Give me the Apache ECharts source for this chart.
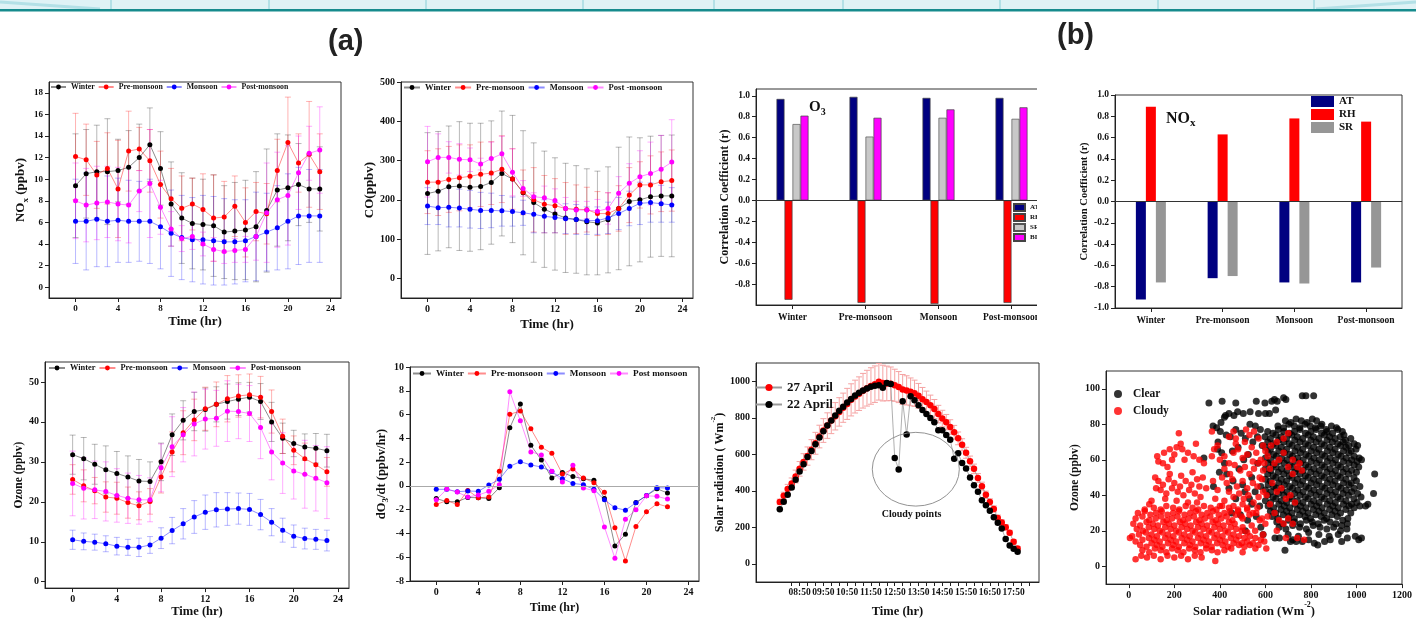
<!DOCTYPE html>
<html>
<head>
<meta charset="utf-8">
<title>Diurnal variation and correlation panels</title>
<script src="https://cdn.jsdelivr.net/npm/echarts@6/dist/echarts.min.js"></script>
<style>
html, body { margin: 0; padding: 0; background: #fff; }
#main { width: 1416px; height: 619px; }
</style>
</head>
<body>
<div id="main"></div>
<script>
// ---------- data ----------
const hours = [0, 1, 2, 3, 4, 5, 6, 7, 8, 9, 10, 11, 12, 13, 14, 15, 16, 17, 18, 19, 20, 21, 22, 23]
const hourTicks = [0, 4, 8, 12, 16, 20, 24]

// NOx (ppbv)
const noxWinter = [9.4, 10.5, 10.7, 10.7, 10.8, 11.1, 12.0, 13.2, 11.0, 7.7, 6.4, 5.9, 5.8, 5.7, 5.1, 5.2, 5.3, 5.6, 7.1, 9.0, 9.2, 9.5, 9.1, 9.1]
const noxWinterSd = [4.8, 4.1, 4.3, 4.9, 2.9, 3.4, 3.1, 3.4, 3.4, 3.9, 4.2, 4.2, 4.2, 4.7, 4.3, 4.5, 4.6, 5.1, 5.7, 5.2, 4.9, 3.8, 3.1, 3.9]
const noxPre = [12.1, 11.8, 10.4, 11.0, 9.1, 12.6, 12.8, 11.7, 9.5, 8.2, 7.3, 7.7, 7.2, 6.4, 6.5, 7.5, 6.0, 7.0, 6.8, 10.8, 13.4, 11.5, 12.3, 10.7]
const noxPreSd = [4.0, 3.3, 3.1, 3.3, 4.5, 3.7, 2.0, 2.9, 3.1, 2.8, 3.0, 2.4, 3.3, 4.0, 3.3, 2.8, 3.2, 2.7, 2.8, 2.9, 4.2, 2.7, 4.9, 3.5]
const noxMon = [6.1, 6.1, 6.3, 6.1, 6.2, 6.1, 6.1, 6.1, 5.6, 5.0, 4.6, 4.4, 4.4, 4.3, 4.2, 4.2, 4.3, 4.7, 5.1, 5.5, 6.1, 6.6, 6.6, 6.6]
const noxMonSd = [3.9, 4.5, 4.4, 4.2, 3.9, 3.8, 3.7, 3.9, 3.9, 4.0, 3.9, 3.9, 4.1, 4.1, 4.0, 3.9, 3.8, 4.1, 3.6, 3.9, 4.4, 4.5, 4.3, 4.3]
const noxPost = [8.0, 7.6, 7.8, 7.9, 7.7, 7.6, 8.9, 9.6, 7.4, 5.4, 4.5, 4.7, 4.0, 3.5, 3.3, 3.4, 3.5, 4.7, 6.9, 8.1, 8.5, 10.6, 12.4, 12.7]
const noxPostSd = [3.5, 3.4, 3.4, 3.3, 3.4, 3.5, 1.9, 5.0, 2.5, 1.6, 1.2, 1.2, 1.1, 1.1, 1.1, 1.1, 1.2, 2.2, 4.6, 4.4, 4.6, 3.4, 2.5, 4.0]
const noxTicks = [0, 2, 4, 6, 8, 10, 12, 14, 16, 18]

// CO (ppbv)
const coWinter = [216, 222, 233, 235, 232, 234, 244, 267, 253, 218, 193, 176, 164, 154, 150, 144, 141, 149, 178, 196, 200, 208, 210, 210]
const coWinterSd = [155, 152, 155, 164, 163, 161, 157, 159, 162, 158, 152, 148, 143, 139, 137, 135, 132, 135, 156, 164, 158, 154, 154, 155]
const coPre = [245, 245, 252, 256, 260, 265, 268, 278, 253, 219, 200, 189, 185, 178, 176, 175, 165, 165, 178, 212, 238, 238, 246, 249]
const coPreSd = [80, 85, 84, 84, 80, 82, 80, 85, 77, 57, 82, 73, 69, 66, 62, 57, 56, 53, 58, 70, 59, 74, 76, 78]
const coMon = [184, 180, 181, 179, 176, 173, 173, 172, 170, 167, 163, 158, 155, 152, 150, 147, 147, 154, 165, 178, 191, 193, 190, 187]
const coMonSd = [47, 43, 50, 48, 48, 46, 44, 39, 37, 32, 47, 42, 39, 38, 38, 35, 35, 40, 41, 44, 54, 50, 47, 44]
const coPost = [297, 308, 308, 303, 302, 291, 305, 317, 270, 229, 208, 205, 198, 178, 174, 174, 171, 178, 217, 242, 259, 267, 278, 296]
const coPostSd = [90, 60, 40, 40, 30, 15, 42, 45, 60, 20, 10, 30, 30, 28, 22, 22, 30, 40, 42, 50, 66, 80, 86, 108]
const coTicks = [0, 100, 200, 300, 400, 500]

// Ozone (ppbv)
const o3Winter = [31.8, 30.8, 29.4, 28.0, 27.1, 26.2, 25.2, 25.1, 30.0, 36.8, 40.4, 42.6, 43.1, 44.4, 45.1, 45.7, 46.2, 45.1, 40.0, 35.9, 34.6, 33.7, 33.4, 32.8]
const o3WinterSd = [4.9, 5.3, 5.0, 6.0, 5.5, 5.3, 5.4, 4.9, 4.7, 5.2, 4.9, 4.8, 5.4, 4.4, 4.4, 4.1, 3.7, 4.5, 4.9, 3.8, 3.3, 3.3, 3.7, 4.1]
const o3Pre = [25.6, 24.0, 22.8, 21.2, 20.9, 19.8, 19.0, 20.1, 26.2, 32.5, 37.3, 40.5, 43.3, 44.4, 45.8, 46.5, 46.8, 46.2, 42.6, 36.4, 32.9, 30.8, 29.3, 27.5]
const o3PreSd = [3.7, 4.0, 3.3, 3.8, 4.0, 3.9, 3.5, 3.2, 4.0, 5.0, 5.5, 5.2, 5.4, 5.6, 5.8, 5.3, 5.2, 5.2, 5.4, 4.3, 3.6, 3.9, 3.8, 3.6]
const o3Mon = [10.5, 10.1, 9.9, 9.5, 8.9, 8.6, 8.6, 9.2, 10.9, 12.8, 14.5, 16.2, 17.4, 18.0, 18.2, 18.3, 18.1, 16.8, 14.9, 12.9, 11.4, 10.8, 10.6, 10.3]
const o3MonSd = [2.4, 2.1, 2.0, 2.0, 2.2, 2.0, 2.3, 2.1, 2.6, 3.3, 3.8, 4.1, 4.3, 4.3, 4.1, 3.9, 4.0, 3.8, 3.4, 3.0, 2.8, 2.6, 2.5, 2.6]
const o3Post = [24.6, 23.4, 23.0, 22.6, 21.6, 20.9, 20.5, 20.5, 28.5, 33.8, 36.8, 39.5, 40.7, 40.9, 42.7, 42.6, 42.1, 38.6, 32.5, 29.7, 27.7, 26.9, 25.9, 24.8]
const o3PostSd = [8.1, 7.7, 7.2, 7.4, 6.7, 6.3, 6.1, 5.5, 6.0, 7.5, 6.8, 8.0, 7.5, 7.0, 7.6, 6.8, 7.0, 7.8, 7.0, 7.6, 7.0, 8.5, 8.2, 9.0]
const o3Ticks = [0, 10, 20, 30, 40, 50]

// dO3/dt (ppbv/hr), hours 0-22
const dWinter = [-1.06, -1.33, -1.33, -0.97, -1.0, -1.06, -0.15, 4.88, 6.88, 3.42, 2.18, 0.66, 1.12, 0.78, 0.61, 0.47, -1.06, -5.05, -4.07, -1.4, -0.83, -0.24, -0.6]
const dPre = [-1.57, -1.23, -1.57, -0.38, -1.0, -0.94, 1.23, 6.03, 6.29, 4.8, 3.25, 2.74, 1.0, 1.42, 0.66, 0.27, -0.54, -3.53, -6.31, -3.42, -2.18, -1.5, -1.76]
const dMon = [-0.29, -0.29, -0.49, -0.43, -0.46, 0.07, 0.55, 1.65, 2.04, 1.76, 1.59, 1.2, 0.61, 0.21, 0.1, -0.29, -1.17, -1.84, -2.04, -1.42, -0.8, -0.15, -0.18]
const dPost = [-1.17, -0.27, -0.52, -0.94, -0.77, -0.46, 0.1, 7.92, 5.47, 2.86, 2.6, 1.23, 0.33, 1.74, -0.18, -0.4, -3.45, -6.09, -2.8, -2.01, -0.83, -0.88, -1.11]
const dTicks = [-8, -6, -4, -2, 0, 2, 4, 6, 8, 10]

// correlation coefficients
const seasons = ['Winter', 'Pre-monsoon', 'Monsoon', 'Post-monsoon']
const o3AT = [0.97, 0.99, 0.98, 0.98]
const o3RH = [-0.95, -0.98, -0.99, -0.98]
const o3SR = [0.73, 0.61, 0.79, 0.78]
const o3BLH = [0.81, 0.79, 0.87, 0.89]
const noxAT = [-0.92, -0.72, -0.76, -0.76]
const noxRH = [0.89, 0.63, 0.78, 0.75]
const noxSR = [-0.76, -0.70, -0.77, -0.62]
const corrO3Ticks = [-0.8, -0.6, -0.4, -0.2, 0.0, 0.2, 0.4, 0.6, 0.8, 1.0]
const corrNoxTicks = [-1.0, -0.8, -0.6, -0.4, -0.2, 0.0, 0.2, 0.4, 0.6, 0.8, 1.0]

// solar radiation (W m-2), 10-minute readings
const solarTimes = ['08:00', '08:10', '08:20', '08:30', '08:40', '08:50', '09:00', '09:10', '09:20', '09:30',
  '09:40', '09:50', '10:00', '10:10', '10:20', '10:30', '10:40', '10:50', '11:00', '11:10',
  '11:20', '11:30', '11:40', '11:50', '12:00', '12:10', '12:20', '12:30', '12:40', '12:50',
  '13:00', '13:10', '13:20', '13:30', '13:40', '13:50', '14:00', '14:10', '14:20', '14:30',
  '14:40', '14:50', '15:00', '15:10', '15:20', '15:30', '15:40', '15:50', '16:00', '16:10',
  '16:20', '16:30', '16:40', '16:50', '17:00', '17:10', '17:20', '17:30', '17:40', '17:50', '18:00']
const april27 = [339, 372, 410, 440, 478, 520, 558, 590, 625, 660,
  697, 730, 757, 785, 808, 832, 855, 876, 898, 916,
  932, 948, 962, 974, 984, 997, 990, 988, 986, 978,
  968, 955, 950, 942, 934, 920, 902, 886, 868, 848,
  820, 796, 776, 749, 720, 687, 652, 608, 562, 520,
  470, 425, 378, 338, 300, 251, 226, 200, 170, 120, 84]
const april27Err = [15, 20, 25, 30, 35, 40, 45, 50, 55, 60,
  62, 65, 70, 72, 75, 78, 80, 85, 88, 90,
  92, 95, 98, 100, 100, 100, 98, 95, 92, 88,
  85, 82, 80, 76, 72, 68, 64, 60, 56, 52,
  48, 45, 42, 40, 38, 35, 33, 30, 28, 26,
  24, 22, 20, 18, 17, 16, 15, 14, 13, 12, 10]
const april22 = [299, 340, 378, 418, 460, 505, 545, 585, 618, 655,
  692, 726, 758, 785, 812, 838, 860, 884, 903, 922,
  937, 950, 960, 970, 975, 978, 965, 990, 985, 579,
  517, 891, 708, 918, 896, 868, 843, 820, 798, 775,
  732, 732, 706, 680, 576, 605, 552, 522, 472, 430,
  395, 348, 320, 290, 255, 225, 193, 135, 100, 82, 66]
const solarTimeLabels = ['08:50', '09:50', '10:50', '11:50', '12:50', '13:50', '14:50', '15:50', '16:50', '17:50']
const solarTicks = [0, 200, 400, 600, 800, 1000]

// ozone vs solar radiation scatter, flat [sr, o3, sr, o3, ...]
const clearPts = [
  352, 92, 410, 93, 470, 92, 560, 93, 598, 92, 628, 93, 640, 94, 652, 93, 680, 95, 690, 94, 762, 96, 778, 96, 812, 96,
  420, 84, 440, 86, 462, 85, 478, 87, 503, 86, 533, 87, 570, 86, 600, 86, 618, 86, 645, 88, 405, 81, 425, 85,
  370, 79, 386, 78, 402, 76, 428, 74, 392, 70, 446, 73, 470, 77, 494, 75, 512, 72, 532, 80, 556, 79, 578, 77,
  390, 66, 408, 64, 330, 61, 455, 65, 480, 67, 505, 60, 525, 63, 545, 70, 565, 73, 586, 68, 372, 45, 398, 53,
  430, 52, 458, 48, 484, 55, 510, 42, 540, 50, 566, 58, 580, 45, 470, 38, 452, 30, 490, 29, 522, 26, 512, 20,
  540, 35, 560, 28, 580, 22, 590, 18, 420, 58, 440, 44, 500, 46, 530, 38, 555, 42, 575, 34,
  688, 82, 712, 81, 735, 83, 758, 82, 783, 81, 806, 83, 825, 82, 848, 80,
  655, 79, 680, 78, 703, 80, 727, 79, 751, 78, 774, 80, 797, 79, 820, 78, 843, 79, 867, 77, 890, 79, 912, 78,
  610, 76, 633, 75, 657, 77, 681, 76, 705, 75, 728, 76, 752, 77, 776, 75, 800, 76, 823, 77, 847, 75, 871, 76, 895, 75, 918, 77, 938, 76, 945, 74,
  598, 73, 622, 72, 646, 74, 669, 73, 693, 72, 716, 74, 740, 73, 764, 72, 788, 74, 811, 73, 835, 72, 859, 74, 882, 73, 906, 72, 929, 73, 952, 71, 975, 72,
  610, 70, 634, 69, 658, 71, 681, 70, 705, 69, 729, 71, 752, 70, 776, 69, 800, 71, 823, 70, 847, 69, 871, 71, 894, 70, 918, 69, 942, 70, 966, 68, 990, 69, 1005, 68,
  600, 67, 622, 66, 646, 68, 670, 67, 693, 66, 717, 68, 741, 67, 764, 66, 788, 68, 812, 67, 835, 66, 859, 68, 883, 67, 906, 66, 930, 68, 954, 67, 977, 65, 998, 66,
  612, 64, 636, 63, 659, 65, 683, 64, 707, 63, 730, 65, 754, 64, 778, 63, 801, 65, 825, 64, 849, 63, 872, 65, 896, 64, 920, 63, 943, 65, 967, 64, 990, 62, 1012, 61,
  600, 61, 624, 60, 648, 62, 671, 61, 695, 60, 719, 62, 742, 61, 766, 60, 790, 62, 813, 61, 837, 60, 861, 62, 884, 61, 908, 60, 932, 62, 955, 61, 979, 60, 1003, 59, 1022, 60,
  612, 58, 635, 57, 659, 59, 683, 58, 706, 57, 730, 59, 754, 58, 777, 57, 801, 59, 825, 58, 848, 57, 872, 59, 896, 58, 919, 57, 943, 59, 967, 58, 990, 57, 1010, 56,
  600, 55, 624, 54, 647, 56, 671, 55, 695, 54, 718, 56, 742, 55, 766, 54, 789, 56, 813, 55, 837, 54, 860, 56, 884, 55, 908, 54, 931, 56, 955, 55, 979, 54, 1000, 53,
  610, 52, 634, 51, 657, 53, 681, 52, 705, 51, 728, 53, 752, 52, 776, 51, 799, 53, 823, 52, 847, 51, 870, 53, 894, 52, 918, 51, 941, 53, 965, 52, 989, 50, 1080, 52,
  600, 49, 622, 48, 646, 50, 670, 49, 693, 48, 717, 50, 741, 49, 764, 48, 788, 50, 812, 49, 835, 48, 859, 50, 883, 49, 906, 48, 930, 50, 954, 49, 977, 47, 1000, 48,
  612, 46, 636, 45, 659, 47, 683, 46, 707, 45, 730, 47, 754, 46, 778, 45, 801, 47, 825, 46, 849, 45, 872, 47, 896, 46, 920, 45, 943, 47, 967, 46, 990, 44, 1015, 45,
  600, 43, 624, 42, 648, 44, 671, 43, 695, 42, 719, 44, 742, 43, 766, 42, 790, 44, 813, 43, 837, 42, 861, 44, 884, 43, 908, 42, 932, 44, 955, 43, 979, 42, 1005, 41,
  610, 40, 634, 39, 657, 41, 681, 40, 705, 39, 728, 41, 752, 40, 776, 39, 799, 41, 823, 40, 847, 39, 870, 41, 894, 40, 918, 39, 941, 41, 965, 40, 989, 38, 1075, 41, 1020, 39,
  600, 37, 623, 36, 646, 38, 670, 37, 694, 36, 717, 38, 741, 37, 765, 36, 788, 38, 812, 37, 836, 36, 859, 38, 883, 37, 907, 36, 930, 38, 954, 37, 978, 35, 1002, 36, 1050, 35,
  612, 34, 636, 33, 659, 35, 683, 34, 707, 33, 730, 35, 754, 34, 778, 33, 801, 35, 825, 34, 849, 33, 872, 35, 896, 34, 920, 33, 943, 35, 967, 34, 990, 33, 1040, 34, 1015, 34,
  622, 31, 646, 30, 669, 32, 693, 31, 717, 30, 740, 32, 764, 31, 788, 30, 811, 32, 835, 31, 859, 30, 882, 32, 906, 31, 930, 30, 953, 32, 975, 30,
  630, 28, 655, 27, 679, 29, 703, 28, 727, 27, 750, 29, 774, 28, 798, 27, 821, 29, 845, 28, 869, 27, 892, 29, 916, 28, 940, 26, 962, 27,
  650, 25, 676, 24, 702, 26, 728, 25, 754, 24, 780, 26, 806, 25, 832, 24, 858, 26, 884, 25, 910, 24, 935, 23, 960, 24,
  660, 22, 690, 21, 720, 23, 750, 22, 780, 21, 810, 23, 840, 22, 870, 21, 900, 22, 930, 20, 958, 21,
  700, 18, 745, 17, 790, 19, 835, 18, 880, 17, 920, 18, 960, 16, 995, 17, 1022, 16,
  642, 16, 662, 16, 720, 15, 735, 14, 762, 14, 790, 15, 815, 13, 830, 12, 860, 14, 885, 15, 935, 14, 1010, 15,
  686, 9, 710, 14
]
const cloudyPts = [
  110, 33, 140, 32, 165, 34, 195, 33, 222, 32, 250, 34, 280, 33, 305, 32, 330, 34, 360, 33, 385, 32, 410, 34, 440, 33, 480, 31, 520, 32, 560, 30,
  40, 30, 70, 31, 95, 29, 120, 30, 145, 31, 170, 29, 195, 30, 220, 31, 245, 29, 270, 30, 295, 31, 320, 29, 345, 30, 370, 31, 395, 29, 420, 30, 445, 31, 470, 29, 495, 28, 530, 29,
  30, 27, 60, 28, 90, 26, 118, 27, 142, 28, 166, 26, 190, 27, 214, 28, 238, 26, 262, 27, 286, 28, 310, 26, 334, 27, 358, 28, 382, 26, 406, 27, 430, 28, 455, 26, 500, 27, 575, 26,
  20, 24, 50, 23, 78, 25, 105, 24, 128, 23, 152, 25, 176, 24, 200, 23, 224, 25, 248, 24, 272, 23, 296, 25, 320, 24, 344, 23, 368, 25, 392, 24, 416, 23, 440, 25, 465, 24, 500, 22, 540, 23, 600, 24,
  35, 21, 62, 20, 88, 22, 112, 21, 136, 20, 160, 22, 184, 21, 208, 20, 232, 22, 256, 21, 280, 20, 304, 22, 328, 21, 352, 20, 376, 22, 400, 21, 424, 20, 448, 22, 472, 21, 496, 20, 520, 19, 555, 20, 590, 18,
  15, 17, 45, 18, 75, 19, 100, 18, 124, 17, 148, 19, 172, 18, 196, 17, 220, 19, 244, 18, 268, 17, 292, 19, 316, 18, 340, 17, 364, 19, 388, 18, 412, 17, 436, 19, 460, 18, 484, 17, 508, 16, 532, 17, 556, 16, 580, 15,
  5, 16, 30, 14, 60, 15, 88, 16, 112, 15, 136, 14, 160, 16, 184, 15, 208, 14, 232, 16, 256, 15, 280, 14, 304, 16, 328, 15, 352, 14, 376, 16, 400, 15, 424, 14, 448, 16, 472, 15, 496, 13, 520, 14, 545, 13, 570, 12, 595, 14,
  50, 12, 78, 11, 100, 13, 124, 12, 148, 11, 172, 13, 196, 12, 220, 11, 244, 13, 268, 12, 292, 11, 316, 13, 340, 12, 364, 11, 388, 13, 412, 12, 436, 11, 460, 13, 484, 12, 508, 11, 532, 12, 556, 10, 604, 10,
  60, 9, 90, 8, 115, 10, 140, 9, 165, 8, 190, 10, 215, 9, 240, 8, 265, 10, 290, 9, 315, 8, 340, 10, 365, 9, 390, 8, 420, 9, 450, 10, 500, 8,
  30, 4, 55, 6, 80, 5, 110, 6, 140, 4, 170, 6, 200, 5, 230, 6, 260, 4, 290, 6, 320, 5, 380, 3,
  116, 50, 130, 48, 150, 46, 175, 49, 200, 47, 225, 45, 250, 48, 275, 46, 300, 49, 325, 50, 120, 44, 140, 43, 165, 41, 190, 44, 215, 42,
  240, 40, 265, 43, 290, 41, 315, 39, 340, 44, 180, 52, 230, 51, 280, 53, 310, 45, 160, 38, 210, 37, 260, 36, 300, 36, 100, 37, 90, 35, 70, 32,
  125, 62, 130, 59, 155, 64, 180, 66, 200, 63, 210, 67, 228, 69, 235, 66, 260, 64, 285, 62, 295, 69, 245, 60, 190, 60, 150, 58, 170, 56,
  220, 75, 310, 60, 330, 58, 365, 62, 365, 76, 375, 66, 390, 68,
  400, 60, 420, 62, 440, 58, 460, 64, 480, 66, 500, 61, 520, 63, 540, 67, 560, 64, 580, 60, 595, 58, 420, 55, 445, 52, 465, 57, 490, 54,
  510, 56, 530, 52, 550, 55, 570, 58, 590, 54, 410, 50, 430, 47, 455, 49, 475, 45, 500, 48, 520, 44, 545, 47, 565, 45, 585, 49, 440, 42,
  460, 39, 485, 41, 505, 38, 525, 40, 548, 36, 570, 39, 590, 42, 460, 34, 480, 32, 500, 35, 520, 33, 545, 30, 565, 33, 585, 27, 370, 48,
  390, 43, 380, 38, 400, 34, 420, 37, 440, 73, 470, 72, 510, 70, 530, 74, 550, 76, 570, 72, 590, 68, 600, 65, 610, 62, 460, 76, 470, 69,
  515, 77, 545, 59, 575, 50,
  620, 55, 640, 58, 660, 60, 680, 64, 700, 56, 720, 52, 740, 56, 750, 58, 630, 47, 650, 42, 670, 44, 690, 38, 710, 40, 730, 36, 620, 35,
  640, 30, 660, 26, 680, 24, 700, 27, 720, 24, 740, 16, 770, 15, 690, 16, 650, 20, 610, 28, 625, 68, 650, 70, 680, 72, 700, 75, 720, 60,
  760, 54, 605, 40
]
const srTicks = [0, 200, 400, 600, 800, 1000, 1200]
const ozTicks = [0, 20, 40, 60, 80, 100]

// cloudy-points ring and its label, in data units of the solar panel
const cloudRing = { t: 13.72, v: 518, rt: 1.83, rv: 202 }
const cloudLabel = { t: 13.54, v: 269 }

// ---------- helpers ----------
const FONT = "'Liberation Serif', 'Times New Roman', serif"

function toHours (s) {
  const p = s.split(':')
  return Number(p[0]) + Number(p[1]) / 60
}
function hhmm (v) {
  let h = Math.floor(v + 1e-6)
  let m = Math.round((v - h) * 60)
  if (m === 60) { h++; m = 0 }
  return (h < 10 ? '0' : '') + h + ':' + (m < 10 ? '0' : '') + m
}
function pairs (a) {
  const out = []
  for (let i = 0; i < a.length; i += 2) out.push([a[i], a[i + 1]])
  return out
}
const plain = v => String(Math.round(v * 1000) / 1000)

function richName (size) {
  const base = { fontFamily: FONT, fontWeight: 'bold', fontSize: size, color: '#111', verticalAlign: 'top' }
  return {
    fontFamily: FONT, fontWeight: 'bold', fontSize: size, color: '#111',
    rich: {
      b: Object.assign({}, base),
      s: Object.assign({}, base, { fontSize: Math.round(size * 0.68), padding: [Math.round(size * 0.5), 0, 0, 0] }),
      p: Object.assign({}, base, { padding: [4, 0, 0, 0] }),
      u: Object.assign({}, base, { fontSize: Math.round(size * 0.62) })
    }
  }
}

function valueAxis (gi, min, max, ticks, fontSize, name, nameGap, nameSize, fmt) {
  return {
    type: 'value', gridIndex: gi, min: min, max: max,
    axisLine: { show: true, onZero: false, lineStyle: { color: '#222' } },
    axisTick: { show: true, length: 4, customValues: ticks, lineStyle: { color: '#222' } },
    axisLabel: { customValues: ticks, fontFamily: FONT, fontWeight: 'bold', fontSize: fontSize, color: '#111', margin: 6, formatter: fmt || plain },
    splitLine: { show: false },
    name: name, nameLocation: 'middle', nameGap: nameGap, nameTextStyle: richName(nameSize)
  }
}

function catAxis (gi, fontSize) {
  return {
    type: 'category', gridIndex: gi, data: seasons,
    axisLine: { show: true, onZero: false, lineStyle: { color: '#222' } },
    axisTick: { show: true, alignWithLabel: true, interval: 0, length: 4, lineStyle: { color: '#222' } },
    axisLabel: { interval: 0, fontFamily: FONT, fontWeight: 'bold', fontSize: fontSize, color: '#111', margin: 8 },
    splitLine: { show: false }
  }
}

function renderErr (params, api) {
  const top = api.coord([api.value(0), api.value(2)])
  const bot = api.coord([api.value(0), api.value(1)])
  const w = 3
  const style = { stroke: api.visual('color'), lineWidth: 1 }
  return {
    type: 'group',
    children: [
      { type: 'line', shape: { x1: top[0], y1: top[1], x2: bot[0], y2: bot[1] }, style: style },
      { type: 'line', shape: { x1: top[0] - w, y1: top[1], x2: top[0] + w, y2: top[1] }, style: style },
      { type: 'line', shape: { x1: bot[0] - w, y1: bot[1], x2: bot[0] + w, y2: bot[1] }, style: style }
    ]
  }
}

function errSeries (gi, xs, ys, sd, color) {
  return {
    type: 'custom', name: 'sd', xAxisIndex: gi, yAxisIndex: gi, silent: true, z: 1,
    renderItem: renderErr, itemStyle: { color: color },
    data: xs.map((x, i) => [x, ys[i] - sd[i], ys[i] + sd[i]])
  }
}

function lineSeries (gi, name, xs, ys, color, size) {
  return {
    type: 'line', name: name, xAxisIndex: gi, yAxisIndex: gi, z: 3,
    data: xs.map((x, i) => [x, ys[i]]),
    symbol: 'circle', symbolSize: size || 5,
    itemStyle: { color: color, borderWidth: 0 },
    lineStyle: { color: color, width: 1, opacity: 0.45 }
  }
}

function barSeries (gi, name, vals, color, width, border) {
  return {
    type: 'bar', name: name, xAxisIndex: gi, yAxisIndex: gi, data: vals,
    barWidth: width, barGap: '0%',
    itemStyle: { color: color, borderColor: border || color, borderWidth: border ? 0.7 : 0 }
  }
}

const zeroLine = {
  silent: true, symbol: 'none', label: { show: false },
  lineStyle: { color: '#333', width: 1, type: 'solid' }, data: [{ yAxis: 0 }]
}

function lineLegend (left, top, names, size, w) {
  return {
    left: left, top: top, padding: 0, itemGap: 3, itemWidth: w || 16, itemHeight: 6,
    data: names, textStyle: { fontFamily: FONT, fontWeight: 'bold', fontSize: size, color: '#111' }
  }
}

const ERR = {
  black: 'rgba(0,0,0,0.28)', red: 'rgba(255,0,0,0.3)', blue: 'rgba(0,0,255,0.28)', pink: 'rgba(255,0,255,0.32)'
}
const seasonNames = ['Winter', 'Pre-monsoon', 'Monsoon', 'Post-monsoon']
const hoursD = hours.slice(0, dWinter.length)
const solarHours = solarTimes.map(toHours)
const solarLabelHours = solarTimeLabels.map(toHours)
const solarTickHours = []
solarLabelHours.forEach(h => { solarTickHours.push(h - 1 / 3, h, h + 1 / 3) })
solarTickHours.push(solarLabelHours[solarLabelHours.length - 1] + 2 / 3)

const fmt1 = v => v.toFixed(1)

// ---------- chart ----------
const chart = echarts.init(document.getElementById('main'), null, { renderer: 'canvas' })

const grids = [
  { left: 49, top: 82, width: 292, height: 216 },
  { left: 401, top: 82, width: 292, height: 216 },
  { left: 756, top: 89, width: 292, height: 216 },
  { left: 1115, top: 95, width: 287, height: 213 },
  { left: 45, top: 362, width: 304, height: 231 },
  { left: 410, top: 367, width: 289, height: 214 },
  { left: 756, top: 363, width: 283, height: 220 },
  { left: 1106, top: 371, width: 296, height: 216 }
].map(g => Object.assign(g, { show: true, borderColor: '#333', borderWidth: 1, backgroundColor: 'transparent' }))

const xAxes = [
  valueAxis(0, -2.5, 25, hourTicks, 9, 'Time (hr)', 17, 13),
  valueAxis(1, -2.5, 25, hourTicks, 10, 'Time (hr)', 20, 13),
  catAxis(2, 9.5),
  catAxis(3, 9.5),
  valueAxis(4, -2.5, 25, hourTicks, 10, 'Time (hr)', 15, 12.5),
  valueAxis(5, -2.5, 25, hourTicks, 10, 'Time (hr)', 21, 12),
  valueAxis(6, 7.0, 18.9, solarLabelHours, 9.5, 'Time (hr)', 23, 12.5, hhmm),
  valueAxis(7, -100, 1200, srTicks, 10, '{p|Solar radiation (Wm}{u|-2}{p|)}', 15, 12.5)
]
xAxes[6].axisTick.customValues = solarTickHours

const yAxes = [
  valueAxis(0, -1, 19, noxTicks, 9, '{b|NO}{s|x}{b| (ppbv)}', 17, 13),
  valueAxis(1, -50, 500, coTicks, 10, 'CO(ppbv)', 22, 13),
  valueAxis(2, -1.0, 1.065, corrO3Ticks, 9.5, 'Correlation Coefficient (r)', 22, 12, fmt1),
  valueAxis(3, -1, 1, corrNoxTicks, 9.5, 'Correlation Coefficient (r)', 25, 10.5, fmt1),
  valueAxis(4, -1.6, 55, o3Ticks, 10, 'Ozone (ppbv)', 20, 11.5),
  valueAxis(5, -8, 10, dTicks, 10, '{b|dO}{s|3}{b|/dt (ppbv/hr)}', 20, 12.5),
  valueAxis(6, -100, 1100, solarTicks, 10, '{p|Solar radiation ( Wm}{u|-2}{p|)}', 22, 12),
  valueAxis(7, -10, 110, ozTicks, 10, 'Ozone (ppbv)', 14, 11.5)
]

const series = []
// panel: NOx diurnal
series.push(
  errSeries(0, hours, noxWinter, noxWinterSd, ERR.black),
  errSeries(0, hours, noxPre, noxPreSd, ERR.red),
  errSeries(0, hours, noxMon, noxMonSd, ERR.blue),
  errSeries(0, hours, noxPost, noxPostSd, ERR.pink),
  lineSeries(0, 'Winter', hours, noxWinter, '#000'),
  lineSeries(0, 'Pre-monsoon', hours, noxPre, '#ff0000'),
  lineSeries(0, 'Monsoon', hours, noxMon, '#0000ff'),
  lineSeries(0, 'Post-monsoon', hours, noxPost, '#ff00ff')
)
// panel: CO diurnal
series.push(
  errSeries(1, hours, coWinter, coWinterSd, ERR.black),
  errSeries(1, hours, coPre, coPreSd, ERR.red),
  errSeries(1, hours, coMon, coMonSd, ERR.blue),
  errSeries(1, hours, coPost, coPostSd, ERR.pink),
  lineSeries(1, 'Winter', hours, coWinter, '#000'),
  lineSeries(1, 'Pre-monsoon', hours, coPre, '#ff0000'),
  lineSeries(1, 'Monsoon', hours, coMon, '#0000ff'),
  lineSeries(1, 'Post -monsoon', hours, coPost, '#ff00ff')
)
// panel: O3 correlations
const o3RHSeries = barSeries(2, 'RH', o3RH, '#ff0000', 8, '#444')
o3RHSeries.markLine = zeroLine
series.push(
  barSeries(2, 'AT', o3AT, '#000080', 8, '#444'),
  o3RHSeries,
  barSeries(2, 'SR', o3SR, '#c8c8c8', 8, '#555'),
  barSeries(2, 'BLH', o3BLH, '#ff00ff', 8, '#444')
)
// panel: NOx correlations
const noxRHSeries = barSeries(3, 'RH', noxRH, '#ff0000', 10)
noxRHSeries.markLine = zeroLine
series.push(
  barSeries(3, 'AT', noxAT, '#000080', 10),
  noxRHSeries,
  barSeries(3, 'SR', noxSR, '#969696', 10)
)
// panel: ozone diurnal
series.push(
  errSeries(4, hours, o3Winter, o3WinterSd, ERR.black),
  errSeries(4, hours, o3Pre, o3PreSd, ERR.red),
  errSeries(4, hours, o3Mon, o3MonSd, ERR.blue),
  errSeries(4, hours, o3Post, o3PostSd, ERR.pink),
  lineSeries(4, 'Winter', hours, o3Winter, '#000'),
  lineSeries(4, 'Pre-monsoon', hours, o3Pre, '#ff0000'),
  lineSeries(4, 'Monsoon', hours, o3Mon, '#0000ff'),
  lineSeries(4, 'Post-monsoon', hours, o3Post, '#ff00ff')
)
// panel: dO3/dt
const dZero = lineSeries(5, 'Winter', hoursD, dWinter, '#000')
dZero.markLine = { silent: true, symbol: 'none', label: { show: false }, lineStyle: { color: '#aaa', width: 1, type: 'solid' }, data: [{ yAxis: 0 }] }
series.push(
  dZero,
  lineSeries(5, 'Pre-monsoon', hoursD, dPre, '#ff0000'),
  lineSeries(5, 'Monsoon', hoursD, dMon, '#0000ff'),
  lineSeries(5, 'Post monsoon', hoursD, dPost, '#ff00ff')
)
// panel: solar radiation
series.push(
  {
    type: 'custom', name: 'sd', xAxisIndex: 6, yAxisIndex: 6, silent: true, z: 1,
    renderItem: renderErr, itemStyle: { color: '#f5a3a3' },
    data: solarHours.map((t, i) => [t, april27[i] - april27Err[i], april27[i] + april27Err[i]])
  },
  {
    type: 'line', name: '27 April', xAxisIndex: 6, yAxisIndex: 6, z: 3,
    data: solarHours.map((t, i) => [t, april27[i]]),
    symbol: 'circle', symbolSize: 6.5,
    itemStyle: { color: '#ff0000', borderWidth: 0 },
    lineStyle: { color: '#9a9a9a', width: 0.8 }
  },
  {
    type: 'line', name: '22 April', xAxisIndex: 6, yAxisIndex: 6, z: 4,
    data: solarHours.map((t, i) => [t, april22[i]]),
    symbol: 'circle', symbolSize: 6.5,
    itemStyle: { color: '#000', borderWidth: 0 },
    lineStyle: { color: '#9a9a9a', width: 0.8 }
  }
)
// panel: ozone vs solar radiation
series.push(
  { type: 'scatter', name: 'Clear', xAxisIndex: 7, yAxisIndex: 7, data: pairs(clearPts), symbolSize: 7, itemStyle: { color: '#000' } },
  { type: 'scatter', name: 'Cloudy', xAxisIndex: 7, yAxisIndex: 7, data: pairs(cloudyPts), symbolSize: 6.5, itemStyle: { color: '#ff0000' } }
)

const legends = [
  lineLegend(50, 83, seasonNames, 7.8, 15),
  lineLegend(403, 83, ['Winter', 'Pre-monsoon', 'Monsoon', 'Post -monsoon'], 8.6),
  lineLegend(48, 364, seasonNames, 8.4),
  lineLegend(412, 369, ['Winter', 'Pre-monsoon', 'Monsoon', 'Post monsoon'], 9.2, 18),
  {
    left: 1013, top: 203, orient: 'vertical', padding: 0, itemGap: 1, itemWidth: 11, itemHeight: 7, icon: 'rect',
    data: ['AT', 'RH', 'SR', 'BLH'], textStyle: { fontFamily: FONT, fontWeight: 'bold', fontSize: 7, color: '#111' }
  },
  {
    left: 1311, top: 96, orient: 'vertical', padding: 0, itemGap: 2, itemWidth: 23, itemHeight: 11, icon: 'rect',
    data: [
      { name: 'AT', itemStyle: { color: '#000080', borderWidth: 0 } },
      { name: 'RH', itemStyle: { color: '#ff0000', borderWidth: 0 } },
      { name: 'SR', itemStyle: { color: '#969696', borderWidth: 0 } }
    ],
    textStyle: { fontFamily: FONT, fontWeight: 'bold', fontSize: 11, color: '#111' }
  },
  {
    left: 755, top: 381, orient: 'vertical', padding: 0, itemGap: 4, itemWidth: 26, itemHeight: 9,
    data: ['27 April', '22 April'], textStyle: { fontFamily: FONT, fontWeight: 'bold', fontSize: 13, color: '#111' }
  },
  {
    left: 1114, top: 388, orient: 'vertical', padding: 0, itemGap: 5, itemWidth: 8, itemHeight: 8, icon: 'circle',
    data: ['Clear', 'Cloudy'], textStyle: { fontFamily: FONT, fontWeight: 'bold', fontSize: 11.5, color: '#111', padding: [0, 0, 0, 6] }
  }
]

const headerLines = [111, 269, 426, 583, 714, 843, 1000, 1158, 1314]
const graphics = [
  { type: 'rect', shape: { x: 0, y: 0, width: 1416, height: 9 }, style: { fill: '#dff2f5' }, z: 50 },
  { type: 'line', shape: { x1: 0, y1: 2, x2: 100, y2: 9 }, style: { stroke: '#b3e0e6', lineWidth: 3 }, z: 51 },
  { type: 'line', shape: { x1: 1416, y1: 2, x2: 1316, y2: 9 }, style: { stroke: '#b3e0e6', lineWidth: 3 }, z: 51 },
  { type: 'rect', shape: { x: 0, y: 9, width: 1416, height: 2.5 }, style: { fill: '#168b8d' }, z: 52 },
  { type: 'text', left: 328, top: 27, z: 50, style: { text: '(a)', fill: '#222', font: "bold 29px 'Liberation Sans', Arial, sans-serif" } },
  { type: 'text', left: 1057, top: 21, z: 50, style: { text: '(b)', fill: '#222', font: "bold 29px 'Liberation Sans', Arial, sans-serif" } },
  {
    type: 'text', left: 809, top: 100, z: 50,
    style: {
      text: '{b|O}{s|3}',
      rich: {
        b: { fontFamily: FONT, fontWeight: 'bold', fontSize: 15, fill: '#111', verticalAlign: 'top' },
        s: { fontFamily: FONT, fontWeight: 'bold', fontSize: 10, fill: '#111', verticalAlign: 'top', padding: [7, 0, 0, 0] }
      }
    }
  },
  {
    type: 'text', left: 1166, top: 111, z: 50,
    style: {
      text: '{b|NO}{s|x}',
      rich: {
        b: { fontFamily: FONT, fontWeight: 'bold', fontSize: 16, fill: '#111', verticalAlign: 'top' },
        s: { fontFamily: FONT, fontWeight: 'bold', fontSize: 11, fill: '#111', verticalAlign: 'top', padding: [7, 0, 0, 0] }
      }
    }
  },
  // the right edge of the O3 correlation panel is cropped in the source figure
  { type: 'rect', shape: { x: 1037, y: 84, width: 22, height: 236 }, style: { fill: '#fff' }, z: 60 }
]
headerLines.forEach(x => {
  graphics.push({ type: 'line', shape: { x1: x, y1: 0, x2: x, y2: 9 }, style: { stroke: '#b3e0e6', lineWidth: 2 }, z: 51 })
})

chart.setOption({
  animation: false,
  backgroundColor: '#fff',
  textStyle: { fontFamily: FONT },
  grid: grids,
  xAxis: xAxes,
  yAxis: yAxes,
  legend: legends,
  series: series,
  graphic: graphics
})

// cloudy-points annotation placed from data units of the solar panel
const c0 = chart.convertToPixel({ gridIndex: 6 }, [cloudRing.t, cloudRing.v])
const c1 = chart.convertToPixel({ gridIndex: 6 }, [cloudRing.t + cloudRing.rt, cloudRing.v + cloudRing.rv])
const rx = Math.abs(c1[0] - c0[0])
const ry = Math.abs(c0[1] - c1[1])
const lp = chart.convertToPixel({ gridIndex: 6 }, [cloudLabel.t, cloudLabel.v])
graphics.push(
  { type: 'circle', x: c0[0], y: c0[1], scaleY: ry / rx, shape: { cx: 0, cy: 0, r: rx }, style: { fill: 'none', stroke: '#8a8a8a', lineWidth: 1, strokeNoScale: true }, z: 50 },
  { type: 'text', x: lp[0], y: lp[1], z: 50, style: { text: 'Cloudy points', fill: '#111', font: "bold 10px 'Liberation Serif', serif", align: 'center', verticalAlign: 'middle' } }
)
chart.setOption({ graphic: graphics }, { replaceMerge: ['graphic'] })
</script>
</body>
</html>
